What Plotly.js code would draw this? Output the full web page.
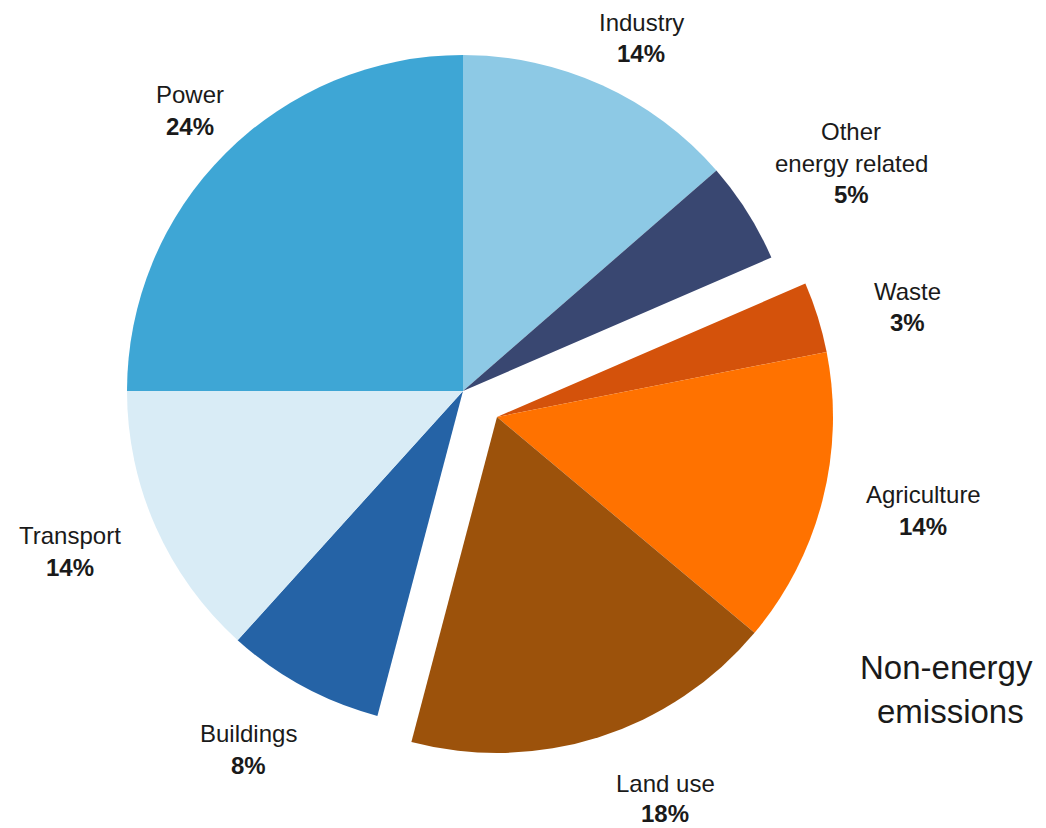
<!DOCTYPE html>
<html>
<head>
<meta charset="utf-8">
<script src="https://cdn.plot.ly/plotly-3.0.1.min.js"></script>
<style>html,body{margin:0;padding:0;background:#fff;}#chart{width:1046px;height:828px;}</style>
</head>
<body>
<div id="chart"></div>
<script>
// Data (clockwise from 12 o'clock)
const categories = ["Industry", "Other energy related", "Waste", "Agriculture", "Land use", "Buildings", "Transport", "Power"];
const nameLines = [["Industry"], ["Other", "energy related"], ["Waste"], ["Agriculture"], ["Land use"], ["Buildings"], ["Transport"], ["Power"]];
// slice sizes as drawn in the picture (angles)
const sliceShares = [13.6, 4.9, 3.4, 14.2, 18.0, 7.6, 13.3, 25.0];
// printed percentage labels
const shareLabels = ["14%", "5%", "3%", "14%", "18%", "8%", "14%", "24%"];
const isNonEnergy = [false, false, true, true, true, false, false, false];
const sliceColors = ["#8DC9E5", "#394771", "#D4520B", "#FF7200", "#9C520B", "#2563A6", "#D9ECF6", "#3EA6D5"];

// Layout: label positions in pixels (centre x, y of first name line)
const W = 1046, H = 828;
const labelPos = [
  [641, 22], [851, 131], [907, 291], [923, 494], [665, 783], [248, 733], [70, 535], [190, 94]
];
const lineStep = 32;
const lastStep = [32, 32, 32, 32, 30, 32, 32, 32];

const R = 336;
const mainC = [463, 391];
const pullC = [497, 417];
function dom(c) {
  return {
    x: [(c[0] - R) / W, (c[0] + R) / W],
    y: [(H - c[1] - R) / H, (H - c[1] + R) / H]
  };
}
const clear = 'rgba(0,0,0,0)';
const energyColors = sliceColors.map((c, i) => isNonEnergy[i] ? clear : c);
const nonEnergyColors = sliceColors.map((c, i) => isNonEnergy[i] ? c : clear);

const base = {
  type: 'pie', labels: categories, values: sliceShares, sort: false, direction: 'clockwise',
  rotation: 0, textinfo: 'none', hoverinfo: 'label', showlegend: false
};
const traces = [
  Object.assign({}, base, {domain: dom(mainC), marker: {colors: energyColors, line: {width: 0}}}),
  Object.assign({}, base, {domain: dom(pullC), marker: {colors: nonEnergyColors, line: {width: 0}}})
];

const fam = 'Liberation Sans, Arial, sans-serif';
const font = {family: fam, size: 24, color: '#1a1a1a'};
const annotations = [];
function addText(x, y, text, f) {
  annotations.push({
    x: x / W, y: 1 - y / H, xref: 'paper', yref: 'paper', showarrow: false,
    text: text, font: f, xanchor: 'center', yanchor: 'middle', align: 'center'
  });
}
categories.forEach((c, i) => {
  const [px, py] = labelPos[i];
  const n = nameLines[i].length;
  nameLines[i].forEach((ln, k) => addText(px, py + k * lineStep, ln, font));
  addText(px, py + (n - 1) * lineStep + lastStep[i], '<b>' + shareLabels[i] + '</b>', font);
});
const bigFont = {family: fam, size: 33, color: '#1a1a1a'};
addText(946, 667, 'Non-energy', bigFont);
addText(950, 711, 'emissions', bigFont);

const layout = {
  width: W, height: H, margin: {l: 0, r: 0, t: 0, b: 0},
  paper_bgcolor: '#fff', plot_bgcolor: '#fff', showlegend: false,
  annotations: annotations
};
Plotly.newPlot('chart', traces, layout, {displayModeBar: false, staticPlot: true});
</script>
</body>
</html>
